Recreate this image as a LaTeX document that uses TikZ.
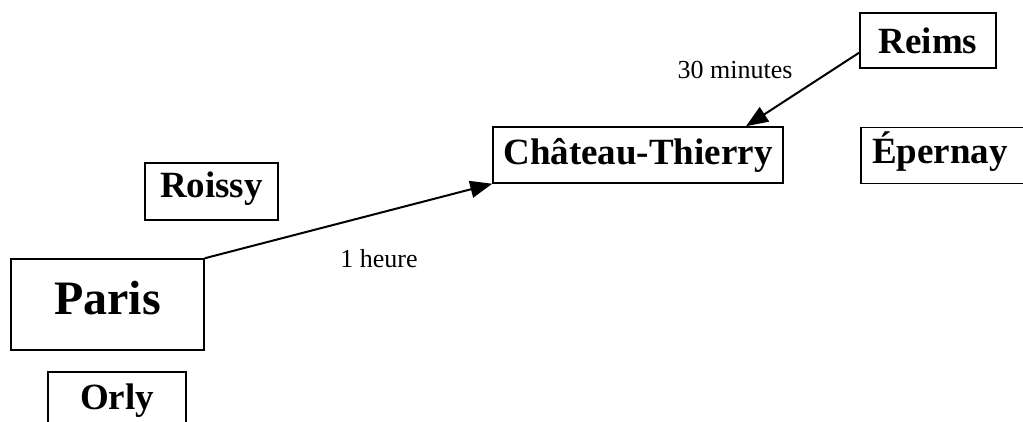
\documentclass[tikz,border=0pt]{standalone}
\usepackage{fontspec}
\setmainfont{Liberation Serif}
\usetikzlibrary{arrows.meta}

\tikzset{
  town/.style={draw, line width=1.5pt, inner sep=0pt, align=center,
    font=\bfseries\fontsize{37}{40}\selectfont},
  bigtown/.style={town, font=\bfseries\fontsize{48}{52}\selectfont},
  route/.style={line width=2pt, -{Triangle[length=22pt,width=17pt]}},
  duration/.style={anchor=base, inner sep=0pt, font=\fontsize{26}{30}\selectfont}
}

\begin{document}
\begin{tikzpicture}[x=1pt, y=-1pt]
  \useasboundingbox (0,0) rectangle (1023,421);
  \clip (0,0) rectangle (1023,421);

  % towns
  \node[bigtown, minimum width=193pt, minimum height=91pt, text height=32pt, text depth=12pt]
                                                           (paris)   at (107.5,304.5) {Paris};
  \node[town, minimum width=138pt, minimum height=57pt]    (orly)    at (117,400.5)   {Orly};
  \node[town, minimum width=133pt, minimum height=57pt, text height=25pt, text depth=14pt]
                                                           (roissy)  at (211.5,191.5) {Roissy};
  \node[town, minimum width=290pt, minimum height=56pt]    (chateau) at (638,155)     {Château-Thierry};
  \node[town, minimum width=169pt, minimum height=56pt, text width=160pt, align=left,
        text height=25pt, text depth=10pt]                 (epernay) at (945.5,155.5) {\hspace*{6.5pt}Épernay};
  \node[town, minimum width=136pt, minimum height=55pt]    (reims)   at (928,40.5)    {Reims};

  % routes
  \draw[route] (paris.north east) -- (chateau.south west);
  \draw[route] (reims.190) -- ([xshift=108pt]chateau.north);

  % travel times
  \node[duration] (t1) at (379,267) {1 heure};
  \node[duration] (t2) at (735,78)  {30 minutes};
\end{tikzpicture}
\end{document}
